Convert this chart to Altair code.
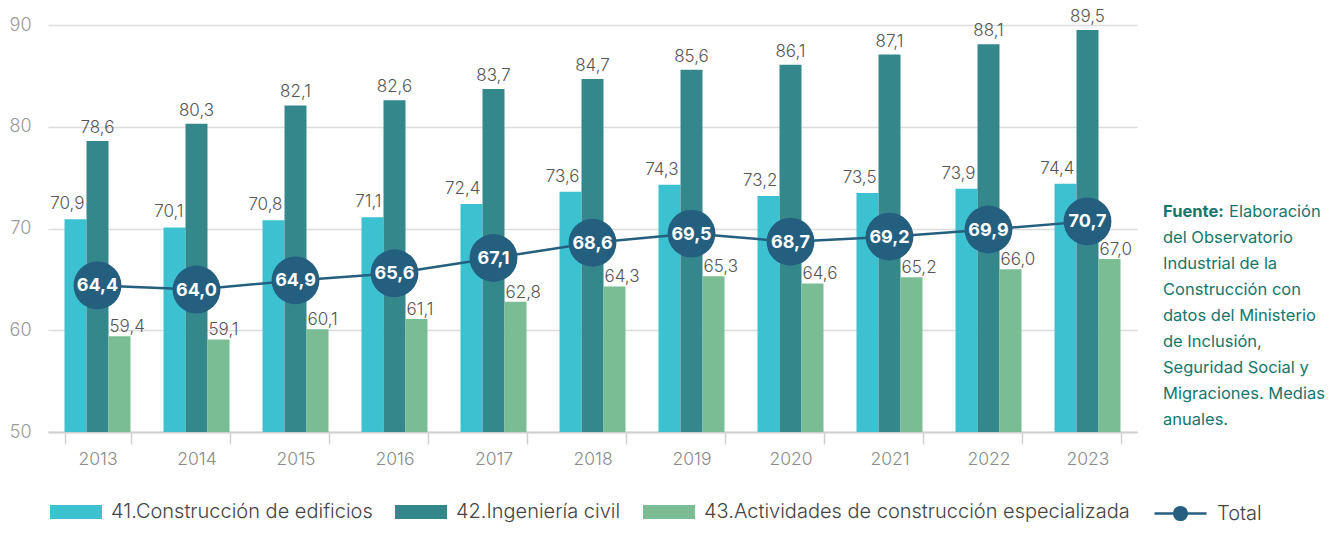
import altair as alt
import pandas as pd

years = ["2013", "2014", "2015", "2016", "2017", "2018", "2019", "2020", "2021", "2022", "2023"]
series = [
    "41.Construcción de edificios",
    "42.Ingeniería civil",
    "43.Actividades de construcción especializada",
]
edificios = [70.9, 70.1, 70.8, 71.1, 72.4, 73.6, 74.3, 73.2, 73.5, 73.9, 74.4]
ingenieria = [78.6, 80.3, 82.1, 82.6, 83.7, 84.7, 85.6, 86.1, 87.1, 88.1, 89.5]
especializada = [59.4, 59.1, 60.1, 61.1, 62.8, 64.3, 65.3, 64.6, 65.2, 66.0, 67.0]
total = [64.4, 64.0, 64.9, 65.6, 67.1, 68.6, 69.5, 68.7, 69.2, 69.9, 70.7]
total_name = "Total"
bar_colors = ["#3cc1d1", "#34878b", "#7abd94"]
total_color = "#245f80"
note_bold = "Fuente:"
note_first = "Elaboración"
note_lines = [
    "del Observatorio",
    "Industrial de la",
    "Construcción con",
    "datos del Ministerio",
    "de Inclusión,",
    "Seguridad Social y",
    "Migraciones. Medias",
    "anuales.",
]

rows = []
for s, vals in zip(series, [edificios, ingenieria, especializada]):
    for yr, v in zip(years, vals):
        rows.append({"year": yr, "series": s, "value": v})
bars_df = pd.DataFrame(rows)
total_df = pd.DataFrame({"year": years, "value": total, "series": total_name})

W, H = 1089, 407
FONT = "Inter"
LABEL_EXPR = "replace(format(datum.value, '.1f'), '.', ',')"
RECT_PATH = "M-1,-0.27H1V0.27H-1Z"


def ring(r):
    return f"M{-r},0A{r},{r} 0 1,0 {r},0A{r},{r} 0 1,0 {-r},0Z"


LINE_DOT_PATH = "M-1,0H1" + "".join(ring(r) for r in [0.245, 0.19, 0.135, 0.08, 0.03])

x_enc = alt.X(
    "year:N",
    sort=years,
    title=None,
    scale=alt.Scale(paddingInner=1 / 3, paddingOuter=1 / 6),
    axis=alt.Axis(
        tickBand="extent",
        tickSize=12,
        tickColor="#d0d0d0",
        tickWidth=1.5,
        domainColor="#d0d0d0",
        domainWidth=2,
        labelColor="#8a8a8a",
        labelFontSize=17.5,
        labelFont=FONT,
        labelFontWeight=300,
        labelPadding=6,
        labelAngle=0,
        grid=False,
    ),
)
y_scale = alt.Scale(domain=[50, 90], nice=False, zero=False)
y_enc = alt.Y(
    "value:Q",
    scale=y_scale,
    title=None,
    axis=alt.Axis(
        values=[50, 60, 70, 80, 90],
        grid=True,
        gridColor="#dcdcdc",
        gridWidth=1.5,
        domain=False,
        ticks=False,
        labelColor="#9a9a9a",
        labelFontSize=18,
        labelFont=FONT,
        labelFontWeight=300,
        labelPadding=17,
    ),
)
xoff = alt.XOffset(
    "series:N", sort=series, scale=alt.Scale(domain=series, paddingInner=0, paddingOuter=0)
)

legend_common = dict(
    title=None,
    orient="none",
    direction="horizontal",
    symbolSize=2704,
    labelFontSize=20,
    labelFont=FONT,
    labelFontWeight=300,
    labelColor="#444444",
    labelOffset=9,
    labelLimit=600,
    legendY=461,
)
bar_legend = alt.Legend(
    legendX=2,
    columns=3,
    columnPadding=22,
    symbolType=RECT_PATH,
    symbolStrokeWidth=0,
    **legend_common,
)
total_legend = alt.Legend(
    legendX=1105,
    symbolType=LINE_DOT_PATH,
    symbolStrokeWidth=2.5,
    symbolStrokeColor=total_color,
    **legend_common,
)

bars = alt.Chart(bars_df).mark_bar(width=22).encode(
    x=x_enc,
    xOffset=xoff,
    y=y_enc,
    y2=alt.datum(50),
    color=alt.Color("series:N", scale=alt.Scale(domain=series, range=bar_colors), legend=bar_legend),
)

lab_base = alt.Chart(bars_df).transform_calculate(label=LABEL_EXPR)
label_style = dict(font=FONT, fontSize=17, fontWeight=300, color="#555555", baseline="alphabetic")
lab1 = lab_base.transform_filter(alt.datum.series == series[0]).mark_text(
    align="right", dx=9, dy=-10, **label_style
).encode(x=x_enc, xOffset=xoff, y=y_enc, text="label:N")
lab2 = lab_base.transform_filter(alt.datum.series == series[1]).mark_text(
    align="center", dx=0, dy=-8, **label_style
).encode(x=x_enc, xOffset=xoff, y=y_enc, text="label:N")
lab3 = lab_base.transform_filter(alt.datum.series == series[2]).mark_text(
    align="left", dx=-10, dy=-4, **label_style
).encode(x=x_enc, xOffset=xoff, y=y_enc, text="label:N")

tot_base = alt.Chart(total_df).transform_calculate(label=LABEL_EXPR)
line = tot_base.mark_line(color=total_color, strokeWidth=2.5).encode(x=x_enc, y=y_enc)
dots = tot_base.mark_circle(color=total_color, size=2290, opacity=1).encode(x=x_enc, y=y_enc)
dot_labels = tot_base.mark_text(
    font=FONT, fontSize=18, fontWeight="bold", color="white", baseline="middle", dy=1
).encode(x=x_enc, y=y_enc, text="label:N")
legend_stub = (
    tot_base.transform_filter("false")
    .mark_point(filled=False, color=total_color, size=2704, opacity=1, strokeWidth=2.5)
    .encode(
        x=x_enc,
        y=y_enc,
        shape=alt.Shape(
            "series:N",
            scale=alt.Scale(domain=[total_name], range=[LINE_DOT_PATH]),
            legend=total_legend,
        ),
    )
)

note_df = pd.DataFrame({"t": [0]})
note_color = "#17766e"
note_b = alt.Chart(note_df).mark_text(
    text=note_bold, font=FONT, fontSize=16.5, fontWeight="bold", color=note_color,
    align="left", baseline="middle",
).encode(x=alt.value(W + 26), y=alt.value(187))
note_f = alt.Chart(note_df).mark_text(
    text=note_first, font=FONT, fontSize=16.5, color=note_color,
    align="left", baseline="middle",
).encode(x=alt.value(W + 92), y=alt.value(187))
note_r = alt.Chart(note_df).mark_text(
    text=note_lines, font=FONT, fontSize=16.5, color=note_color,
    align="left", baseline="middle", lineHeight=26,
).encode(x=alt.value(W + 26), y=alt.value(213))

chart = (
    alt.layer(bars, line, dots, dot_labels, lab1, lab2, lab3, legend_stub, note_b, note_f, note_r)
    .properties(
        width=W,
        height=H,
        autosize=alt.AutoSizeParams(type="none"),
        padding={"left": 40, "top": 17, "right": 190, "bottom": 94},
    )
    .configure_view(stroke=None)
)

chart.save("out.html", embed_options={"renderer": "svg", "actions": False})
